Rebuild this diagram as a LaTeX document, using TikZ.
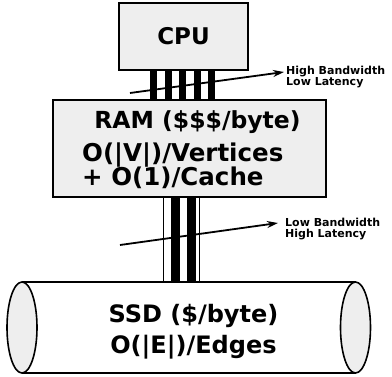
\documentclass[tikz,border=0pt]{standalone}
\usepackage{fontspec}
\setmainfont{DejaVu Sans}
\usepackage{tikz}
\usetikzlibrary{arrows.meta,positioning,calc}
\definecolor{boxgray}{RGB}{238,238,238}

\begin{document}
\begin{tikzpicture}[x=1pt, y=-1pt, every node/.style={font=\bfseries\fontsize{24}{26}\selectfont},
    unit/.style={draw, line width=2pt, fill=boxgray},
    bar/.style={fill=black, draw=none},
    note/.style={font=\bfseries\fontsize{11}{10.5}\selectfont, align=left, inner sep=0pt, anchor=west},
    busarrow/.style={-{Stealth[length=11pt,width=7pt]}, line width=1.8pt}]
        \useasboundingbox (0,0) rectangle (392,376);
        % buses first, boxes on top
        \foreach \bx in {150,164.5,179,193.5,208}
          \fill[black] (\bx,68) rectangle ++(7,32);
        \draw[line width=1pt, fill=white] (163,195) rectangle (199,281);
        \fill[black] (171,195) rectangle (180,281);
        \fill[black] (187,195) rectangle (196,281);
        \node[unit, minimum width=129, minimum height=67, inner sep=0pt, font=\bfseries\fontsize{23}{26}\selectfont] (cpu) at (183.5,36.5) {CPU};
        \node[unit, minimum width=273, minimum height=97, inner sep=0pt] (ram) at (189.5,148) {};
        \node[anchor=base, inner sep=0pt, font=\bfseries\fontsize{23.5}{26}\selectfont] (ramtitle) at (197.5,128) {RAM (\$\$\$/byte)};
        \node[anchor=base west, inner sep=0pt, font=\bfseries\fontsize{24.5}{26}\selectfont] (ramcost) at (82,161) {O(|V|)/Vertices};
        \node[anchor=base west, inner sep=0pt, font=\bfseries\fontsize{24.5}{26}\selectfont] (ramcache) at (82,185) {+ O(1)/Cache};
        % SSD cylinder
        \fill[white] (22,282) rectangle (355.5,373);
        \draw[line width=1.6pt] (22,282) -- (355.5,282) (22,373) -- (355.5,373);
        \draw[line width=1.6pt, fill=boxgray] (22,327.5) ellipse [x radius=15, y radius=45.5];
        \draw[line width=1.6pt, fill=boxgray] (355.5,327.5) ellipse [x radius=15, y radius=45.5];
        \node[anchor=base, inner sep=0pt] (ssd) at (193.5,322) {SSD (\$/byte)};
        \node[anchor=base, inner sep=0pt] (ssdcost) at (193.5,353) {O(|E|)/Edges};
        % bandwidth notes
        \node[note] (fastnote) at (286,77) {High Bandwidth\\Low Latency};
        \node[note] (slownote) at (285,229) {Low Bandwidth\\High Latency};
        \coordinate (faststart) at (130,93);
        \coordinate (slowstart) at (120,245);
        \draw[busarrow] (faststart) -- ($(fastnote.west)+(-2,-5)$);
        \draw[busarrow] (slowstart) -- ($(slownote.west)+(-7,-6)$);
      \end{tikzpicture}
\end{document}
